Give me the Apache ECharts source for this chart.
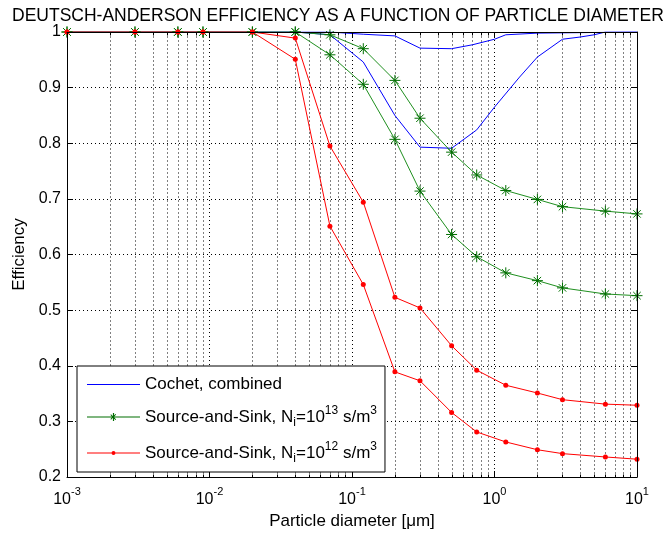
<!DOCTYPE html>
<html>
<head>
<meta charset="utf-8">
<script src="https://cdn.jsdelivr.net/npm/echarts@6/dist/echarts.min.js"></script>
<style>html,body{margin:0;padding:0;background:#fff}#c{width:663px;height:537px}</style>
</head>
<body>
<div id="c"></div>
<script>
// ---- data ----
const diameters = [0.001, 0.003, 0.006, 0.009, 0.02, 0.04, 0.07, 0.12, 0.2, 0.3, 0.5, 0.75, 1.2, 2, 3, 6, 10];
const green13High = [1, 1, 1, 1, 1, 1, 0.995, 0.97, 0.913, 0.845, 0.784, 0.743, 0.715, 0.699, 0.686, 0.678, 0.673];
const green13Low  = [1, 1, 1, 1, 1, 1, 0.959, 0.906, 0.807, 0.714, 0.636, 0.596, 0.567, 0.553, 0.54, 0.529, 0.526];
const red12High   = [1, 1, 1, 1, 1, 0.989, 0.795, 0.694, 0.523, 0.504, 0.436, 0.392, 0.365, 0.351, 0.339, 0.331, 0.329];
const red12Low    = [1, 1, 1, 1, 1, 0.951, 0.651, 0.546, 0.389, 0.373, 0.316, 0.281, 0.263, 0.249, 0.242, 0.236, 0.232];
const cochetLowX  = [0.001, 0.04, 0.07, 0.12, 0.2, 0.3, 0.5, 0.75, 1.0, 1.5, 2, 3, 4, 5, 6, 10];
const cochetLow   = [1, 1, 0.995, 0.946, 0.85, 0.793, 0.791, 0.824, 0.865, 0.919, 0.955, 0.987, 0.991, 0.995, 1, 1];
const cochetHighX = [0.001, 0.07, 0.12, 0.2, 0.3, 0.5, 0.7, 1.0, 1.2, 2, 10];
const cochetHigh  = [1, 1, 0.996, 0.993, 0.971, 0.97, 0.977, 0.987, 0.995, 0.998, 1];
const yTicks = [0.2, 0.3, 0.4, 0.5, 0.6, 0.7, 0.8, 0.9, 1];
const xDecades = [-3, -2, -1, 0, 1];

const titleText = 'DEUTSCH-ANDERSON EFFICIENCY AS A FUNCTION OF PARTICLE DIAMETER';
const nameCochet = 'Cochet, combined';
const name13 = 'Source-and-Sink, Ni=10^13 s/m^3';
const name12 = 'Source-and-Sink, Ni=10^12 s/m^3';

// ---- helpers ----
const zip = (xs, ys) => xs.map((x, i) => [x, ys[i]]);
const minorVals = [];
for (let d = xDecades[0]; d < xDecades[xDecades.length - 1]; d++) {
  for (let k = 2; k <= 9; k++) minorVals.push([k * Math.pow(10, d), yTicks[0]]);
}
const FONT = '"Liberation Sans", Arial, sans-serif';
const star = 'path://M0,5 L10,5 M5,0 L5,10 M1.6,1.6 L8.4,8.4 M8.4,1.6 L1.6,8.4';

// legend icons (filled shapes): line bar + marker
const iconLine = 'path://M0,0 L53,0 L53,1 L0,1 Z';
const iconStar = 'path://M0,5.5 L53,5.5 L53,6.5 L0,6.5 Z' +
  ' M27.1,2 L27.1,10 L25.9,10 L25.9,2 Z' +
  ' M22.5,5.4 L30.5,5.4 L30.5,6.6 L22.5,6.6 Z' +
  ' M24.03,3.29 L29.21,8.47 L28.57,9.11 L23.39,3.93 Z' +
  ' M23.39,8.07 L28.57,2.89 L29.21,3.53 L24.03,8.71 Z';
const iconDot = 'path://M0,5.5 L53,5.5 L53,6.5 L0,6.5 Z M28.5,6 A2,2 0 1,1 24.5,6 A2,2 0 1,1 28.5,6 Z';

const greenLine = '#1f8f1f', greenMark = '#006e00', red = '#ff0000', blue = '#0000ff';

function greenSeries(data) {
  return {
    type: 'line', name: name13, data: data, xAxisIndex: 0, yAxisIndex: 0,
    symbol: star, symbolSize: 11, showAllSymbol: true,
    lineStyle: { color: greenLine, width: 1 },
    itemStyle: { color: greenMark, borderColor: greenMark, borderWidth: 1 },
    z: 2, animation: false
  };
}
function redSeries(data) {
  return {
    type: 'line', name: name12, data: data, xAxisIndex: 0, yAxisIndex: 0,
    symbol: 'circle', symbolSize: 5, showAllSymbol: true,
    lineStyle: { color: red, width: 1 },
    itemStyle: { color: red, borderWidth: 0 },
    z: 2, animation: false
  };
}
function blueSeries(data) {
  return {
    type: 'line', name: nameCochet, data: data, xAxisIndex: 0, yAxisIndex: 0,
    symbol: 'none', lineStyle: { color: blue, width: 1 }, itemStyle: { color: blue },
    z: 2, animation: false
  };
}

const chart = echarts.init(document.getElementById('c'), null, { renderer: 'canvas' });
const axisBlack = { color: '#000', width: 1 };
const dotted = { color: '#000', width: 1, type: [1, 3] };

chart.setOption({
  animation: false,
  backgroundColor: '#fff',
  textStyle: { fontFamily: FONT },
  title: {
    text: titleText, left: 7, top: 2,
    textStyle: { fontSize: 17.5, fontWeight: 'normal', color: '#000', fontFamily: FONT }
  },
  grid: { left: 67, right: 26, top: 32, bottom: 60, containLabel: false },
  legend: {
    data: [
      { name: nameCochet, icon: iconLine },
      { name: name13, icon: iconStar, itemStyle: { color: greenMark } },
      { name: name12, icon: iconDot, itemStyle: { color: red } }
    ],
    orient: 'vertical', left: 77, top: 366,
    padding: [10, 8, 7, 10],
    itemWidth: 53, itemHeight: 12, itemGap: 12,
    backgroundColor: '#fff', borderColor: '#000', borderWidth: 1, borderRadius: 0,
    selectedMode: false,
    itemStyle: { borderWidth: 0 },
    formatter: function (n) {
      if (n === nameCochet) return '{c|Cochet, combined}';
      const p = n === name13 ? '13' : '12';
      return '{t|Source-and-Sink, N}{sub|i}{t|=10}{sup|' + p + '}{t| s/m}{sup|3}';
    },
    textStyle: {
      fontSize: 17, color: '#000', fontFamily: FONT,
      rich: {
        c: { fontSize: 17, lineHeight: 12, color: '#000', fontFamily: FONT },
        t: { fontSize: 17, lineHeight: 24, color: '#000', fontFamily: FONT },
        sup: { fontSize: 12, lineHeight: 12, verticalAlign: 'top', color: '#000', fontFamily: FONT },
        sub: { fontSize: 12, lineHeight: 12, verticalAlign: 'bottom', color: '#000', fontFamily: FONT }
      }
    },
    z: 10
  },
  xAxis: [
    {
      type: 'log', logBase: 10, min: 0.001, max: 10, position: 'bottom', gridIndex: 0,
      axisLine: { show: true, onZero: false, lineStyle: axisBlack },
      axisTick: { show: true, inside: true, length: 6, lineStyle: axisBlack },
      splitLine: { show: true, lineStyle: dotted },
      axisLabel: {
        margin: 9, color: '#000',
        formatter: function (v) { return '{b|10}{sup|' + Math.round(Math.log10(v)) + '}'; },
        rich: {
          b: { fontSize: 16, lineHeight: 28, color: '#000', fontFamily: FONT },
          sup: { fontSize: 11, lineHeight: 14, verticalAlign: 'top', color: '#000', fontFamily: FONT }
        }
      },
      name: 'Particle diameter [\u03bcm]', nameLocation: 'middle', nameGap: 36,
      nameTextStyle: { fontSize: 17, color: '#000', fontFamily: FONT }
    },
    {
      type: 'log', logBase: 10, min: 0.001, max: 10, position: 'top', gridIndex: 0, z: 3,
      axisLine: { show: true, onZero: false, lineStyle: axisBlack },
      axisTick: { show: true, inside: true, length: 6, lineStyle: axisBlack },
      splitLine: { show: false }, axisLabel: { show: false }
    }
  ],
  yAxis: [
    {
      type: 'value', min: 0.2, max: 1, interval: 0.1, position: 'left',
      axisLine: { show: true, onZero: false, lineStyle: axisBlack },
      axisTick: { show: true, inside: true, length: 6, lineStyle: axisBlack },
      splitLine: { show: true, lineStyle: dotted },
      axisLabel: {
        margin: 6, fontSize: 16, color: '#000', fontFamily: FONT,
        formatter: function (v) { return v === 1 ? '1' : v.toFixed(1); }
      },
      name: 'Efficiency', nameLocation: 'middle', nameGap: 38, nameRotate: 90,
      nameTextStyle: { fontSize: 17, color: '#000', fontFamily: FONT }
    },
    {
      type: 'value', min: 0.2, max: 1, interval: 0.1, position: 'right', z: 3,
      axisLine: { show: true, onZero: false, lineStyle: axisBlack },
      axisTick: { show: true, inside: true, length: 6, lineStyle: axisBlack },
      splitLine: { show: false }, axisLabel: { show: false }
    }
  ],
  series: [
    {
      type: 'custom', name: 'minorGrid', xAxisIndex: 0, yAxisIndex: 0, z: 1, silent: true,
      data: minorVals, encode: { x: 0, y: 1 }, clip: false,
      renderItem: function (params, api) {
        const v = api.value(0);
        const pb = api.coord([v, yTicks[0]]);
        const pt = api.coord([v, yTicks[yTicks.length - 1]]);
        const x = Math.round(pb[0]) + 0.5;
        const yb = Math.round(pb[1]) + 0.5, yt = Math.round(pt[1]) + 0.5;
        return {
          type: 'group', children: [
            { type: 'line', shape: { x1: x, y1: yb, x2: x, y2: yt }, style: { stroke: '#000', lineWidth: 1, lineDash: [1, 3] } },
            { type: 'line', shape: { x1: x, y1: yb, x2: x, y2: yb - 3 }, style: { stroke: '#000', lineWidth: 1 } },
            { type: 'line', shape: { x1: x, y1: yt, x2: x, y2: yt + 3 }, style: { stroke: '#000', lineWidth: 1 } }
          ]
        };
      }
    },
    blueSeries(zip(cochetHighX, cochetHigh)),
    blueSeries(zip(cochetLowX, cochetLow)),
    greenSeries(zip(diameters, green13High)),
    greenSeries(zip(diameters, green13Low)),
    redSeries(zip(diameters, red12High)),
    redSeries(zip(diameters, red12Low))
  ]
});
</script>
</body>
</html>
